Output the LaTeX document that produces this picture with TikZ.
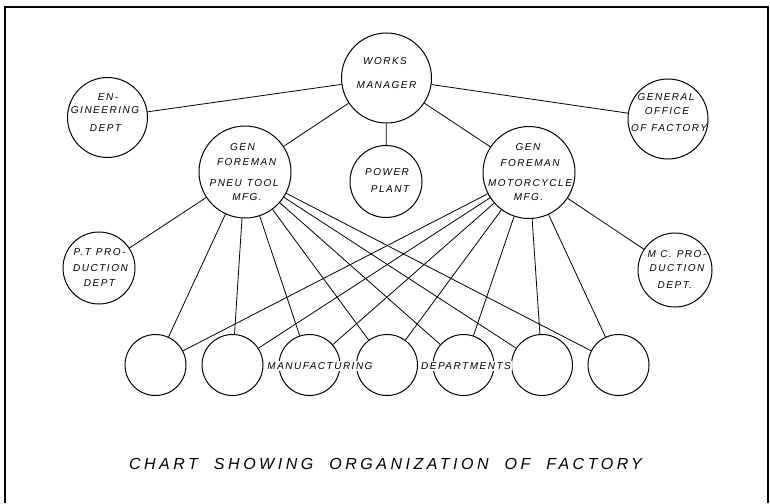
\documentclass[tikz,border=0pt]{standalone}
\usepackage{fontspec}
\setmainfont{Liberation Sans}
\newfontfamily\hand{Liberation Sans}[LetterSpace=15]
\newfontfamily\capfont{Liberation Sans}[LetterSpace=22]
\newcommand{\gap}{\hspace{5pt}}
\begin{document}
\begin{tikzpicture}[x=1pt,y=-1pt,
  org/.style={circle,draw,line width=1pt,inner sep=0pt,minimum size=#1},
  lbl/.style={font=\hand\itshape\fontsize{10}{11}\selectfont,inner sep=0pt},
  wide/.style={font=\hand\itshape\fontsize{10}{11}\selectfont,inner sep=1pt,fill=white},
  link/.style={line width=0.8pt},
  frame/.style={line width=1.3pt}]
\useasboundingbox (0,0) rectangle (770,503);
\draw[frame] (5,503) -- (5,7) -- (768,7) -- (768,503);
% circles
\node[org=90] (wm) at (386.5,78) {};
\node[org=80] (eng) at (107.5,117.5) {};
\node[org=92] (gfp) at (245,172) {};
\node[org=72] (pp) at (386,181.5) {};
\node[org=92] (gfm) at (529,172.5) {};
\node[org=80] (go) at (668,119) {};
\node[org=72] (ptp) at (99,268) {};
\node[org=74] (mcp) at (675,270) {};
\foreach \i/\x in {1/155.5,2/232.5,3/309.5,4/387,5/463.5,6/542,7/618.5}
  \node[org=61] (d\i) at (\x,365) {};
% connectors
\draw[link] (wm) -- (eng);
\draw[link] (wm) -- (go);
\draw[link] (wm) -- (pp);
\draw[link] (wm) -- (gfp);
\draw[link] (wm) -- (gfm);
\draw[link] (gfp) -- (ptp);
\draw[link] (gfm) -- (mcp);
\foreach \i in {1,...,7} {
  \draw[link] (gfp) -- (d\i);
  \draw[link] (gfm) -- (d\i);
}
% labels
\node[lbl] (wm1) at (385,61) {WORKS};
\node[lbl] (wm2) at (386.5,85) {MANAGER};
\node[lbl] (en1) at (108,97) {EN-};
\node[lbl] (en2) at (105,110) {GINEERING};
\node[lbl] (en3) at (105.5,128) {DEPT};
\node[lbl] (gp1) at (242.5,147) {GEN};
\node[lbl] (gp2) at (246.5,162) {FOREMAN};
\node[lbl] (gp3) at (244,183) {PNEU\gap TOOL};
\node[lbl] (gp4) at (247,197) {MFG.};
\node[lbl] (pp1) at (387,172) {POWER};
\node[lbl] (pp2) at (390,189) {PLANT};
\node[lbl] (gm1) at (528,147) {GEN};
\node[lbl] (gm2) at (530,163) {FOREMAN};
\node[lbl] (gm3) at (530,183) {MOTORCYCLE};
\node[lbl] (gm4) at (528.5,197) {MFG.};
\node[lbl] (go1) at (666,97) {GENERAL};
\node[lbl] (go2) at (667,111) {OFFICE};
\node[lbl] (go3) at (669,128) {OF\gap FACTORY};
\node[lbl] (pt1) at (99.5,252) {P.T\gap PRO-};
\node[lbl] (pt2) at (100.5,268) {DUCTION};
\node[lbl] (pt3) at (99.5,283) {DEPT};
\node[lbl] (mc1) at (677,254) {M C.\gap PRO-};
\node[lbl] (mc2) at (677,268) {DUCTION};
\node[lbl] (mc3) at (675,285) {DEPT.};
\node[wide] (mf) at (320,366) {MANUFACTURING};
\node[wide] (dp) at (466,366) {DEPARTMENTS};
\node[font=\capfont\itshape\fontsize{16}{19}\selectfont,inner sep=0pt] (cap) at (385.5,464)
  {CHART\hspace{1em}SHOWING\hspace{1em}ORGANIZATION\hspace{1em}OF\hspace{1em}FACTORY};
\end{tikzpicture}
\end{document}
